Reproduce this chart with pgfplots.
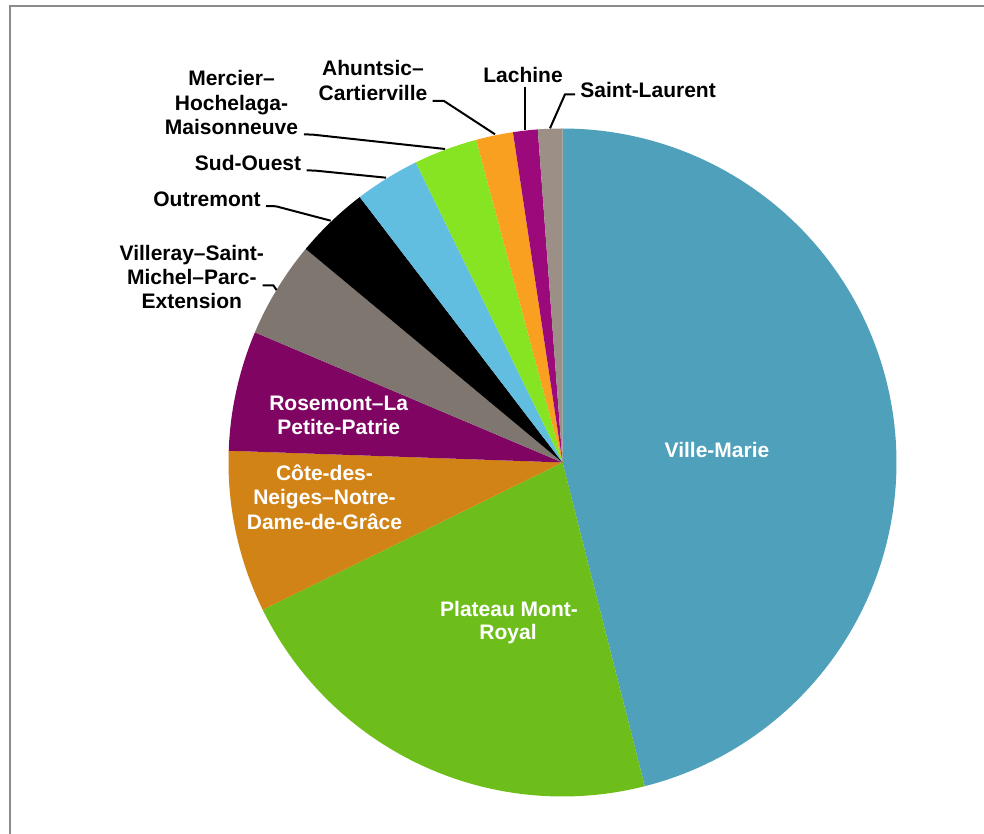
\documentclass[border=0pt]{standalone}
\usepackage{pgfplots}
\usepackage{pgfplotstable}
\pgfplotsset{compat=1.18}
\usepackage{fontspec}
\setmainfont{Liberation Sans}

\definecolor{pc0}{RGB}{79,160,186}   % Ville-Marie
\definecolor{pc1}{RGB}{109,190,27}   % Plateau
\definecolor{pc2}{RGB}{209,131,22}   % Cote-des-Neiges
\definecolor{pc3}{RGB}{128,5,98}     % Rosemont
\definecolor{pc4}{RGB}{127,118,112}  % Villeray
\definecolor{pc5}{RGB}{0,0,0}        % Outremont
\definecolor{pc6}{RGB}{98,190,224}   % Sud-Ouest
\definecolor{pc7}{RGB}{135,228,34}   % Mercier
\definecolor{pc8}{RGB}{250,160,32}   % Ahuntsic
\definecolor{pc9}{RGB}{156,9,123}    % Lachine
\definecolor{pc10}{RGB}{155,143,134} % Saint-Laurent
\definecolor{framegray}{RGB}{140,140,140}

% share of each borough (percent), clockwise from 12 o'clock
\pgfplotstableread[col sep=comma]{
name,value
Ville-Marie,46.04
Plateau Mont-Royal,21.69
Côte-des-Neiges–Notre-Dame-de-Grâce,7.83
Rosemont–La Petite-Patrie,5.81
Villeray–Saint-Michel–Parc-Extension,4.67
Outremont,3.58
Sud-Ouest,3.14
Mercier–Hochelaga-Maisonneuve,3.08
Ahuntsic–Cartierville,1.79
Lachine,1.19
Saint-Laurent,1.18
}\pietable

\begin{document}
\begin{tikzpicture}[font=\fontsize{10.5}{12.6}\selectfont\bfseries]
\begin{axis}[
  x=0.5pt, y=0.5pt,
  xmin=-562.5, xmax=421.5,
  ymin=-371.5, ymax=462.5,
  hide axis, clip=false,
]
\pgfmathsetmacro\cum{0}
\pgfplotsforeachungrouped \i in {0,...,10}{%
  \pgfplotstablegetelem{\i}{value}\of\pietable
  \pgfmathsetmacro\aend{90-3.6*\cum}%
  \pgfmathsetmacro\cum{\cum+\pgfplotsretval}%
  \pgfmathsetmacro\astart{90-3.6*\cum}%
  \edef\temp{\noexpand\addplot[fill=pc\i, draw=none, domain=\astart:\aend, samples=120] ({334*cos(x)},{334*sin(x)}) -- (axis cs:0,0) -- cycle;}%
  \temp
}

% leader lines
\addplot[black, line width=1pt, mark=none] coordinates {(-258.5,328.2) (-249.2,327.8) (-117.5,313.5)};
\addplot[black, line width=1pt, mark=none] coordinates {(-129.8,361.5) (-118.5,361.5) (-67.5,328.2)};
\addplot[black, line width=1pt, mark=none] coordinates {(-37.2,375.8) (-37.2,332.5)};
\addplot[black, line width=1pt, mark=none] coordinates {(12.5,368.2) (2.5,368.2) (-12.5,334.2)};
\addplot[black, line width=1pt, mark=none] coordinates {(-255.8,292.2) (-246.5,291.8) (-176.5,284.8)};
\addplot[black, line width=1pt, mark=none] coordinates {(-296.5,256.5) (-286.5,256.2) (-231.8,241.8)};
\addplot[black, line width=1pt, mark=none] coordinates {(-299.8,177.2) (-289.2,177.2) (-286,172.5)};

% frame
\draw[framegray, line width=1pt] (axis cs:-553,-371.5) -- (axis cs:-553,456.5) -- (axis cs:421.5,456.5);

% inside labels
\begin{scope}[every node/.style={white, anchor=base, inner sep=0pt}]
\node at (axis cs:154.5,4.8) {Ville-Marie};
\node at (axis cs:-53.5,-154.2) {Plateau Mont-};
\node at (axis cs:-54.5,-177.5) {Royal};
\node at (axis cs:-238,-18.5) {Côte-des-};
\node at (axis cs:-238,-42.5) {Neiges–Notre-};
\node at (axis cs:-238,-67.5) {Dame-de-Grâce};
\node at (axis cs:-223.8,51.5) {Rosemont–La};
\node at (axis cs:-223.8,27.5) {Petite-Patrie};
\end{scope}

% outside labels
\begin{scope}[every node/.style={black, anchor=base, inner sep=0pt}]
\node at (axis cs:-331,376.5) {Mercier–};
\node at (axis cs:-331,351.5) {Hochelaga-};
\node at (axis cs:-331,327.5) {Maisonneuve};
\node at (axis cs:-189.5,386.5) {Ahuntsic–};
\node at (axis cs:-189.5,361.8) {Cartierville};
\node at (axis cs:-39.5,379.8) {Lachine};
\node[anchor=base west] at (axis cs:17.5,364.8) {Saint-Laurent};
\node at (axis cs:-314.5,291.8) {Sud-Ouest};
\node at (axis cs:-355.5,255.8) {Outremont};
\node at (axis cs:-370.7,201.5) {Villeray–Saint-};
\node at (axis cs:-370.7,177.5) {Michel–Parc-};
\node at (axis cs:-370.7,153.5) {Extension};
\end{scope}

\coordinate (bbsw) at (axis cs:-562.5,-371.5);
\coordinate (bbne) at (axis cs:421.5,462.5);
\end{axis}
\pgfresetboundingbox
\path (bbsw) rectangle (bbne);
\end{tikzpicture}
\end{document}
